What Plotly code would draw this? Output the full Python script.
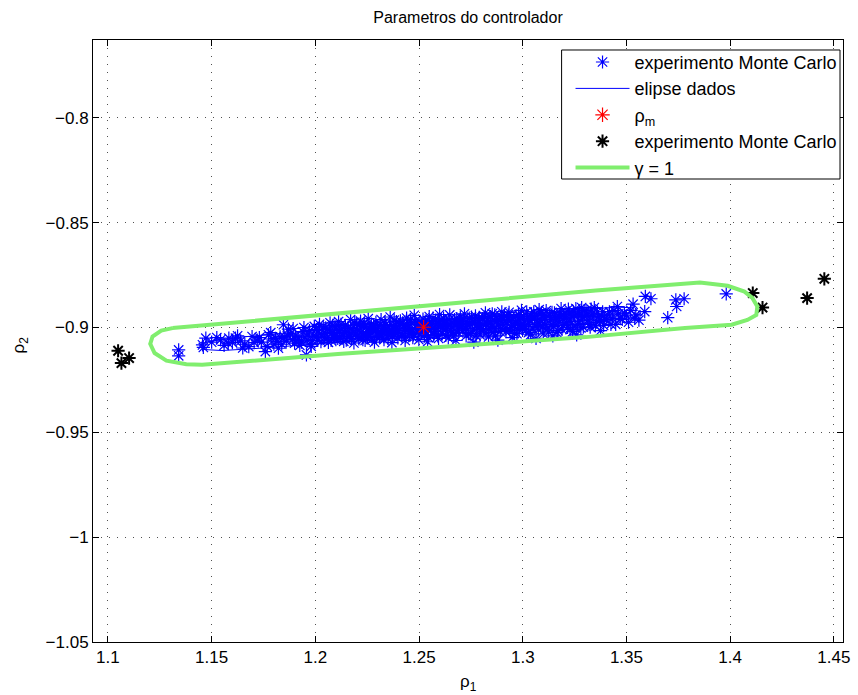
import plotly.graph_objects as go

# Monte Carlo experiment: controller parameter estimates (rho1, rho2)
mc_points = [
    (1.1341, -0.9107), (1.1341, -0.9135), (1.1456, -0.9083), (1.1472, -0.9051), (1.1460, -0.9095),
    (1.1543, -0.9059), (1.1560, -0.9085), (1.1583, -0.9051), (1.1615, -0.9051), (1.1600, -0.9072),
    (1.1640, -0.9064), (1.1679, -0.9091), (1.1695, -0.9043), (1.1660, -0.9080), (1.1720, -0.9060),
    (1.1759, -0.9115), (1.1774, -0.9035), (1.1740, -0.9070), (1.1790, -0.9055), (1.1800, -0.9080),
    (1.1822, -0.9099), (1.1846, -0.8987), (1.1830, -0.9045), (1.1860, -0.9065), (1.1880, -0.9030),
    (1.1900, -0.9075), (1.1920, -0.9050), (1.1940, -0.9020), (1.1957, -0.9131), (1.1960, -0.9060),
    (1.1980, -0.9090), (1.1990, -0.9040), (1.1870, -0.9008), (1.1905, -0.9040), (1.1925, -0.9085),
    (1.1945, -0.9000), (1.1965, -0.9032), (1.1985, -0.9062), (1.1995, -0.8995), (1.1912, -0.9060),
    (1.1850, -0.9045), (1.1815, -0.9068),
    (1.1500, -0.9070), (1.1525, -0.9048), (1.1580, -0.9075), (1.1625, -0.9040), (1.1650, -0.9098),
    (1.1705, -0.9072), (1.1730, -0.9048), (1.1768, -0.9090), (1.1785, -0.9025), (1.1808, -0.9052),
    (1.1838, -0.9080), (1.1865, -0.9040), (1.1890, -0.9058), (1.1893, -0.9005), (1.1933, -0.9070),
    (1.1950, -0.9045), (1.1972, -0.9015), (1.1978, -0.9078),
    (1.2005, -0.9010), (1.2012, -0.9062), (1.2020, -0.8985), (1.2031, -0.9035), (1.2044, -0.9048),
    (1.2050, -0.9002), (1.2063, -0.9071), (1.2071, -0.8978), (1.2080, -0.9025), (1.2088, -0.9040),
    (1.2095, -0.8995), (1.2099, -0.9058),
    (1.2008, -0.9045), (1.2016, -0.9022), (1.2027, -0.9068), (1.2038, -0.8998), (1.2047, -0.9028),
    (1.2058, -0.9050), (1.2067, -0.9012), (1.2076, -0.9062), (1.2084, -0.8990), (1.2092, -0.9030),
    (1.2104, -0.9030), (1.2112, -0.8972), (1.2120, -0.9049), (1.2128, -0.9008), (1.2137, -0.9066),
    (1.2145, -0.8990), (1.2153, -0.9021), (1.2162, -0.9043), (1.2170, -0.8962), (1.2178, -0.9005),
    (1.2186, -0.9074), (1.2193, -0.9030), (1.2198, -0.8985),
    (1.2108, -0.9052), (1.2116, -0.9015), (1.2124, -0.8985), (1.2133, -0.9040), (1.2141, -0.9025),
    (1.2149, -0.9060), (1.2158, -0.8998), (1.2166, -0.9035), (1.2174, -0.9052), (1.2182, -0.9018),
    (1.2190, -0.8975),
    (1.2203, -0.9012), (1.2210, -0.9055), (1.2218, -0.8970), (1.2225, -0.9035), (1.2232, -0.8995),
    (1.2240, -0.9062), (1.2247, -0.9018), (1.2255, -0.8958), (1.2263, -0.9042), (1.2270, -0.8985),
    (1.2278, -0.9006), (1.2285, -0.9070), (1.2292, -0.8975), (1.2298, -0.9030),
    (1.2206, -0.9040), (1.2214, -0.8990), (1.2221, -0.9022), (1.2229, -0.9058), (1.2236, -0.8980),
    (1.2244, -0.9030), (1.2251, -0.9048), (1.2259, -0.9002), (1.2266, -0.9025), (1.2274, -0.9055),
    (1.2281, -0.8992), (1.2289, -0.9015), (1.2295, -0.9045),
    (1.2302, -0.8998), (1.2309, -0.9046), (1.2317, -0.8962), (1.2324, -0.9020), (1.2331, -0.9058),
    (1.2339, -0.8985), (1.2346, -0.9008), (1.2354, -0.9035), (1.2361, -0.8950), (1.2369, -0.9072),
    (1.2376, -0.8995), (1.2384, -0.9025), (1.2391, -0.8972), (1.2398, -0.9050),
    (1.2305, -0.9025), (1.2313, -0.8985), (1.2320, -0.9040), (1.2328, -0.9005), (1.2335, -0.8975),
    (1.2343, -0.9030), (1.2350, -0.9052), (1.2358, -0.8992), (1.2365, -0.9015), (1.2372, -0.9042),
    (1.2380, -0.8965), (1.2387, -0.9005), (1.2394, -0.9028),
    (1.2403, -0.9015), (1.2410, -0.8968), (1.2418, -0.9040), (1.2425, -0.8990), (1.2433, -0.9062),
    (1.2440, -0.8955), (1.2447, -0.9005), (1.2455, -0.9030), (1.2462, -0.8978), (1.2470, -0.9048),
    (1.2477, -0.8942), (1.2485, -0.9012), (1.2492, -0.8985), (1.2499, -0.9058),
    (1.2406, -0.8992), (1.2414, -0.9028), (1.2421, -0.8978), (1.2429, -0.9015), (1.2436, -0.9045),
    (1.2444, -0.8985), (1.2451, -0.9020), (1.2458, -0.8962), (1.2466, -0.9010), (1.2473, -0.9035),
    (1.2481, -0.8970), (1.2488, -0.9000), (1.2495, -0.9025),
    (1.2504, -0.8975), (1.2511, -0.9025), (1.2519, -0.8960), (1.2526, -0.9040), (1.2534, -0.8992),
    (1.2541, -0.9068), (1.2549, -0.8948), (1.2556, -0.9010), (1.2564, -0.8982), (1.2571, -0.9035),
    (1.2579, -0.8965), (1.2586, -0.9002), (1.2594, -0.9052), (1.2599, -0.8938),
    (1.2507, -0.9002), (1.2515, -0.8985), (1.2522, -0.9015), (1.2530, -0.8970), (1.2537, -0.9022),
    (1.2545, -0.9048), (1.2552, -0.8978), (1.2560, -0.9005), (1.2567, -0.8955), (1.2575, -0.9020),
    (1.2582, -0.8988), (1.2590, -0.9040), (1.2596, -0.8972),
    (1.2603, -0.8990), (1.2611, -0.9030), (1.2618, -0.8955), (1.2626, -0.9012), (1.2633, -0.8975),
    (1.2641, -0.9050), (1.2648, -0.8940), (1.2656, -0.8998), (1.2663, -0.9022), (1.2671, -0.8962),
    (1.2678, -0.9062), (1.2686, -0.8982), (1.2693, -0.9008), (1.2699, -0.8950),
    (1.2607, -0.8962), (1.2614, -0.9005), (1.2622, -0.8980), (1.2629, -0.9038), (1.2637, -0.8995),
    (1.2644, -0.8965), (1.2652, -0.9015), (1.2659, -0.8978), (1.2667, -0.9040), (1.2674, -0.8988),
    (1.2682, -0.8958), (1.2689, -0.9025), (1.2696, -0.8992),
    (1.2704, -0.8970), (1.2712, -0.9015), (1.2719, -0.8935), (1.2727, -0.9040), (1.2734, -0.8988),
    (1.2742, -0.8955), (1.2749, -0.9028), (1.2757, -0.8978), (1.2764, -0.9070), (1.2772, -0.8945),
    (1.2779, -0.9002), (1.2787, -0.8965), (1.2794, -0.9035), (1.2799, -0.8990),
    (1.2708, -0.8995), (1.2715, -0.8958), (1.2723, -0.9005), (1.2730, -0.8972), (1.2738, -0.9030),
    (1.2745, -0.8985), (1.2753, -0.8950), (1.2760, -0.9012), (1.2768, -0.8975), (1.2775, -0.9040),
    (1.2783, -0.8985), (1.2790, -0.8952), (1.2797, -0.9010),
    (1.2805, -0.8958), (1.2812, -0.9010), (1.2820, -0.8930), (1.2827, -0.8982), (1.2835, -0.9045),
    (1.2842, -0.8948), (1.2850, -0.8995), (1.2857, -0.9025), (1.2865, -0.8940), (1.2872, -0.8972),
    (1.2880, -0.9060), (1.2887, -0.8962), (1.2895, -0.9005), (1.2899, -0.8925),
    (1.2808, -0.8985), (1.2816, -0.8950), (1.2823, -0.9030), (1.2831, -0.8965), (1.2838, -0.9005),
    (1.2846, -0.8975), (1.2853, -0.8935), (1.2861, -0.9002), (1.2868, -0.9040), (1.2876, -0.8955),
    (1.2883, -0.8988), (1.2891, -0.9020), (1.2897, -0.8948),
    (1.2904, -0.8985), (1.2912, -0.8945), (1.2919, -0.9020), (1.2927, -0.8960), (1.2934, -0.8928),
    (1.2942, -0.9000), (1.2949, -0.9048), (1.2957, -0.8952), (1.2964, -0.8975), (1.2972, -0.9030),
    (1.2979, -0.8938), (1.2987, -0.8990), (1.2994, -0.8918), (1.2999, -0.9010),
    (1.2908, -0.8962), (1.2915, -0.9005), (1.2923, -0.8978), (1.2930, -0.8940), (1.2938, -0.9015),
    (1.2945, -0.8965), (1.2953, -0.8992), (1.2960, -0.9028), (1.2968, -0.8945), (1.2975, -0.8982),
    (1.2983, -0.9012), (1.2990, -0.8955), (1.2996, -0.8985),
    (1.3004, -0.8948), (1.3012, -0.8995), (1.3019, -0.8925), (1.3027, -0.9025), (1.3034, -0.8965),
    (1.3042, -0.8935), (1.3049, -0.9008), (1.3057, -0.8955), (1.3064, -0.9052), (1.3072, -0.8978),
    (1.3079, -0.8915), (1.3087, -0.8990), (1.3094, -0.8945), (1.3099, -0.9030),
    (1.3008, -0.8970), (1.3015, -0.9012), (1.3023, -0.8948), (1.3030, -0.8985), (1.3038, -0.9035),
    (1.3045, -0.8960), (1.3053, -0.8925), (1.3060, -0.8995), (1.3068, -0.8942), (1.3075, -0.9012),
    (1.3083, -0.8965), (1.3090, -0.8930), (1.3096, -0.8998),
    (1.3105, -0.8960), (1.3113, -0.8920), (1.3121, -0.9002), (1.3129, -0.8942), (1.3137, -0.8985),
    (1.3145, -0.9040), (1.3153, -0.8930), (1.3161, -0.8968), (1.3169, -0.9015), (1.3177, -0.8948),
    (1.3185, -0.8910), (1.3193, -0.8990), (1.3199, -0.8955),
    (1.3109, -0.8985), (1.3117, -0.8945), (1.3125, -0.9022), (1.3133, -0.8962), (1.3141, -0.8928),
    (1.3149, -0.8995), (1.3157, -0.8952), (1.3165, -0.9025), (1.3173, -0.8975), (1.3181, -0.8935),
    (1.3189, -0.9008), (1.3196, -0.8940),
    (1.3204, -0.8935), (1.3212, -0.8978), (1.3220, -0.8912), (1.3228, -0.9010), (1.3236, -0.8950),
    (1.3244, -0.8925), (1.3252, -0.8992), (1.3260, -0.9035), (1.3268, -0.8940), (1.3276, -0.8965),
    (1.3284, -0.8905), (1.3292, -0.8998), (1.3299, -0.8948),
    (1.3208, -0.8955), (1.3216, -0.9000), (1.3224, -0.8930), (1.3232, -0.8972), (1.3240, -0.9020),
    (1.3248, -0.8945), (1.3256, -0.8910), (1.3264, -0.8985), (1.3272, -0.8925), (1.3280, -0.9002),
    (1.3288, -0.8950), (1.3296, -0.8920),
    (1.3305, -0.8920), (1.3315, -0.8965), (1.3325, -0.8998), (1.3335, -0.8935), (1.3345, -0.8905),
    (1.3355, -0.8975), (1.3365, -0.8948), (1.3375, -0.9015), (1.3385, -0.8925), (1.3395, -0.8960),
    (1.3310, -0.8942), (1.3320, -0.8985), (1.3330, -0.8912), (1.3340, -0.8950), (1.3350, -0.8992),
    (1.3360, -0.8925), (1.3370, -0.8965), (1.3380, -0.8945), (1.3390, -0.8990),
    (1.3405, -0.8962), (1.3418, -0.8925), (1.3432, -0.8955), (1.3448, -0.8985), (1.3462, -0.8935),
    (1.3480, -0.8962), (1.3500, -0.8945), (1.3520, -0.8918), (1.3540, -0.8955),
    (1.3410, -0.8940), (1.3425, -0.8985), (1.3440, -0.8920), (1.3456, -0.8900), (1.3470, -0.8958),
    (1.3490, -0.8930), (1.3510, -0.8975), (1.3532, -0.8889), (1.3545, -0.8940), (1.3560, -0.8965),
    (1.3588, -0.8924), (1.3591, -0.8852), (1.3618, -0.8863), (1.3699, -0.8953), (1.3738, -0.8868),
    (1.3742, -0.8900), (1.3778, -0.8863), (1.3981, -0.8840),
]
mc_rho1 = [p[0] for p in mc_points]
mc_rho2 = [p[1] for p in mc_points]

# Ellipse fitted to the Monte Carlo data
ell_rho1 = [1.1440, 1.1480, 1.1600, 1.1900, 1.2250, 1.2600, 1.2950, 1.3250, 1.3450, 1.3540, 1.3570,
            1.3530, 1.3410, 1.3100, 1.2750, 1.2400, 1.2050, 1.1750, 1.1550, 1.1460, 1.1440]
ell_rho2 = [-0.9088, -0.9068, -0.9050, -0.9022, -0.8995, -0.8968, -0.8942, -0.8918, -0.8903, -0.8906, -0.8932,
            -0.8952, -0.8970, -0.8997, -0.9023, -0.9050, -0.9077, -0.9098, -0.9110, -0.9105, -0.9088]

# Mean parameter
mean_rho1 = [1.2522]
mean_rho2 = [-0.8999]

# Experiments falling outside the gamma = 1 region
out_rho1 = [1.1049, 1.1102, 1.1065, 1.4109, 1.4156, 1.4371, 1.4454]
out_rho2 = [-0.9111, -0.9146, -0.9170, -0.8836, -0.8905, -0.8860, -0.8768]

# gamma = 1 contour
gam_rho1 = [1.1311, 1.2157, 1.3352, 1.3854, 1.3988, 1.4069, 1.4107, 1.4131, 1.4126, 1.4083, 1.4007,
            1.3782, 1.3304, 1.2109, 1.1454, 1.1378, 1.1282, 1.1225, 1.1204, 1.1215, 1.1257, 1.1311]
gam_rho2 = [-0.9003, -0.8929, -0.8824, -0.8786, -0.8801, -0.8829, -0.8859, -0.8900, -0.8940, -0.8964, -0.8987,
            -0.9003, -0.9046, -0.9126, -0.9178, -0.9175, -0.9158, -0.9122, -0.9078, -0.9043, -0.9015, -0.9003]

x_ticks = [1.1, 1.15, 1.2, 1.25, 1.3, 1.35, 1.4, 1.45]
x_ticklabels = ["1.1", "1.15", "1.2", "1.25", "1.3", "1.35", "1.4", "1.45"]
y_ticks = [-1.05, -1.0, -0.95, -0.9, -0.85, -0.8]
y_ticklabels = ["\u22121.05", "\u22121", "\u22120.95", "\u22120.9", "\u22120.85", "\u22120.8"]

FONT = "Liberation Sans, Arial, Helvetica, sans-serif"
GREEN = "rgb(128,238,110)"

fig = go.Figure()
fig.add_trace(go.Scatter(
    x=mc_rho1, y=mc_rho2, mode="markers", name="experimento Monte Carlo",
    marker=dict(symbol="asterisk-open", size=11, color="#0000ff", line=dict(color="#0000ff", width=1.2)),
))
fig.add_trace(go.Scatter(
    x=ell_rho1, y=ell_rho2, mode="lines", name="elipse dados",
    line=dict(color="#0000ff", width=1),
))
fig.add_trace(go.Scatter(
    x=mean_rho1, y=mean_rho2, mode="markers", name="\u03c1<sub>m</sub>",
    marker=dict(symbol="asterisk-open", size=12, color="#ff0000", line=dict(color="#ff0000", width=1.2)),
))
fig.add_trace(go.Scatter(
    x=out_rho1, y=out_rho2, mode="markers", name="experimento Monte Carlo",
    marker=dict(symbol="asterisk-open", size=11, color="#000000", line=dict(color="#000000", width=2)),
))
fig.add_trace(go.Scatter(
    x=gam_rho1, y=gam_rho2, mode="lines", name="\u03b3 = 1",
    line=dict(color=GREEN, width=4),
))

axis_common = dict(
    showline=True, linecolor="black", linewidth=1, mirror="ticks",
    ticks="inside", ticklen=6, tickcolor="black", tickwidth=1,
    showgrid=True, gridcolor="rgb(80,80,80)", gridwidth=1, griddash="1px,7px",
    zeroline=False, tickfont=dict(family=FONT, size=17, color="black"),
)

# Legend frame (paper coordinates of the plotting area)
legend_box = dict(type="rect", xref="paper", yref="paper",
                  x0=0.6248, x1=0.9960, y0=0.7691, y1=0.9834,
                  line=dict(color="black", width=1), fillcolor="white", layer="above")

fig.update_layout(
    width=858, height=695, autosize=False,
    margin=dict(l=93, r=8, t=40, b=53),
    paper_bgcolor="white", plot_bgcolor="white",
    font=dict(family=FONT, color="black"),
    title=dict(text="Parametros do controlador", x=0.5, xref="paper", xanchor="center",
               y=1 - 17 / 695, yref="container", yanchor="middle",
               font=dict(family=FONT, size=16, color="black")),
    xaxis=dict(range=[1.0928, 1.4544], tickvals=x_ticks, ticktext=x_ticklabels, **axis_common),
    yaxis=dict(range=[-1.05, -0.7629], tickvals=y_ticks, ticktext=y_ticklabels, **axis_common),
    shapes=[legend_box],
    legend=dict(x=0.6367, xanchor="left", y=0.9937, yanchor="top",
                bgcolor="rgba(0,0,0,0)", borderwidth=0,
                font=dict(family=FONT, size=18, color="black"),
                itemwidth=54, tracegroupgap=0),
    showlegend=True,
    annotations=[
        dict(text="\u03c1<sub>1</sub>", xref="paper", yref="paper", x=0.5, y=-0.068,
             xanchor="center", yanchor="middle", showarrow=False,
             font=dict(family=FONT, size=17, color="black")),
        dict(text="\u03c1<sub>2</sub>", xref="paper", yref="paper", x=-0.097, y=0.493,
             xanchor="center", yanchor="middle", showarrow=False, textangle=-90,
             font=dict(family=FONT, size=17, color="black")),
    ],
)

fig.write_html("out.html")
